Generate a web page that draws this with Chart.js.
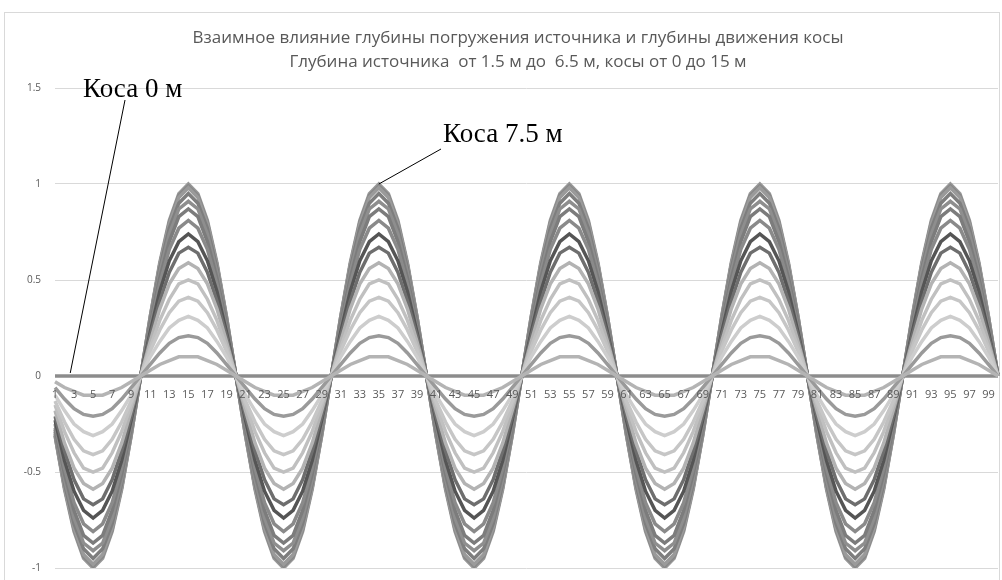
<!DOCTYPE html>
<html>
<head>
<meta charset="utf-8">
<script src="https://cdn.jsdelivr.net/npm/chart.js@4"></script>
<style>
  html, body { margin: 0; padding: 0; background: #fff; }
  #wrap { position: relative; width: 1002px; height: 580px; }
</style>
</head>
<body>
<div id="wrap"><canvas id="ghostChart" width="1002" height="580"></canvas></div>
<script>
// категории 1..100
const categories = [];
for (let i = 1; i <= 100; i++) categories.push(String(i));

// деления оси Y
const yTicks = [-1, -0.5, 0, 0.5, 1, 1.5];

// один период (20 точек) для каждой глубины косы, повторяется 5 раз
const kosa0 = [0,0,0,0,0,0,0,0,0,0, 0,0,0,0,0,0,0,0,0,0];
const kosa05 = [-0.03,-0.06,-0.08,-0.10,-0.10,-0.10,-0.08,-0.06,-0.03,0, 0.03,0.06,0.08,0.10,0.10,0.10,0.08,0.06,0.03,0];
const kosa10 = [-0.06,-0.12,-0.17,-0.20,-0.21,-0.20,-0.17,-0.12,-0.06,0, 0.06,0.12,0.17,0.20,0.21,0.20,0.17,0.12,0.06,0];
const kosa15 = [-0.10,-0.18,-0.25,-0.29,-0.31,-0.29,-0.25,-0.18,-0.10,0, 0.10,0.18,0.25,0.29,0.31,0.29,0.25,0.18,0.10,0];
const kosa20 = [-0.13,-0.24,-0.33,-0.39,-0.41,-0.39,-0.33,-0.24,-0.13,0, 0.13,0.24,0.33,0.39,0.41,0.39,0.33,0.24,0.13,0];
const kosa25 = [-0.15,-0.29,-0.40,-0.48,-0.50,-0.48,-0.40,-0.29,-0.15,0, 0.15,0.29,0.40,0.48,0.50,0.48,0.40,0.29,0.15,0];
const kosa30 = [-0.18,-0.35,-0.48,-0.56,-0.59,-0.56,-0.48,-0.35,-0.18,0, 0.18,0.35,0.48,0.56,0.59,0.56,0.48,0.35,0.18,0];
const kosa35 = [-0.21,-0.39,-0.54,-0.64,-0.67,-0.64,-0.54,-0.39,-0.21,0, 0.21,0.39,0.54,0.64,0.67,0.64,0.54,0.39,0.21,0];
const kosa40 = [-0.23,-0.44,-0.60,-0.70,-0.74,-0.70,-0.60,-0.44,-0.23,0, 0.23,0.44,0.60,0.70,0.74,0.70,0.60,0.44,0.23,0];
const kosa45 = [-0.25,-0.48,-0.66,-0.77,-0.81,-0.77,-0.66,-0.48,-0.25,0, 0.25,0.48,0.66,0.77,0.81,0.77,0.66,0.48,0.25,0];
const kosa50 = [-0.27,-0.51,-0.70,-0.83,-0.87,-0.83,-0.70,-0.51,-0.27,0, 0.27,0.51,0.70,0.83,0.87,0.83,0.70,0.51,0.27,0];
const kosa55 = [-0.28,-0.54,-0.74,-0.87,-0.91,-0.87,-0.74,-0.54,-0.28,0, 0.28,0.54,0.74,0.87,0.91,0.87,0.74,0.54,0.28,0];
const kosa60 = [-0.29,-0.56,-0.77,-0.90,-0.95,-0.90,-0.77,-0.56,-0.29,0, 0.29,0.56,0.77,0.90,0.95,0.90,0.77,0.56,0.29,0];
const kosa65 = [-0.30,-0.58,-0.79,-0.93,-0.98,-0.93,-0.79,-0.58,-0.30,0, 0.30,0.58,0.79,0.93,0.98,0.93,0.79,0.58,0.30,0];
const kosa70 = [-0.31,-0.58,-0.80,-0.94,-0.99,-0.94,-0.80,-0.58,-0.31,0, 0.31,0.58,0.80,0.94,0.99,0.94,0.80,0.58,0.31,0];
const kosa75 = [-0.31,-0.59,-0.81,-0.95,-1.00,-0.95,-0.81,-0.59,-0.31,0, 0.31,0.59,0.81,0.95,1.00,0.95,0.81,0.59,0.31,0];

const seriesNames = ['Коса 0 м', 'Коса 0.5 м', 'Коса 1 м', 'Коса 1.5 м', 'Коса 2 м', 'Коса 2.5 м', 'Коса 3 м', 'Коса 3.5 м',
  'Коса 4 м', 'Коса 4.5 м', 'Коса 5 м', 'Коса 5.5 м', 'Коса 6 м', 'Коса 6.5 м', 'Коса 7 м', 'Коса 7.5 м'];
const seriesPeriods = [kosa0, kosa05, kosa10, kosa15, kosa20, kosa25, kosa30, kosa35,
  kosa40, kosa45, kosa50, kosa55, kosa60, kosa65, kosa70, kosa75];
const seriesColors = ['#8c8c8c', '#b4b4b4', '#9a9a9a', '#cdcdcd', '#c6c6c6', '#c0c0c0', '#b3b3b3', '#6e6e6e',
  '#555555', '#8a8a8a', '#7c7c7c', '#8e8e8e', '#7e7e7e', '#9a9a9a', '#888888', '#999999'];

function tile(period) {
    const out = [];
    for (let r = 0; r < 5; r++) out.push(...period);
    return out;
}

const datasets = seriesPeriods.map(function(p, i) {
    return {
        label: seriesNames[i],
        data: tile(p),
        borderColor: seriesColors[i],
        borderWidth: 3.5,
        pointRadius: 0,
        tension: 0,
        fill: false
    };
});
// нулевую линию рисуем поверх
datasets.push(datasets.shift());

const txt = '#595959';
const plotBottom = 568;

// подписи, рамка, заголовок
const decorPlugin = {
    id: 'decor',
    afterLayout(chart) {
        // ось X стоит на нуле и не должна отъедать место снизу
        const ca = chart.chartArea, y = chart.scales.y;
        ca.bottom = plotBottom;
        ca.height = ca.bottom - ca.top;
        y.bottom = plotBottom;
        y.height = y.bottom - y.top;
        y.configure();
    },
    beforeDraw(chart) {
        const ctx = chart.ctx;
        ctx.save();
        ctx.strokeStyle = '#d9d9d9';
        ctx.lineWidth = 1;
        ctx.strokeRect(4.5, 12.5, 995, 580);
        ctx.fillStyle = txt;
        ctx.font = '17px "Open Sans", sans-serif';
        ctx.textAlign = 'center';
        ctx.textBaseline = 'middle';
        ctx.fillText('Взаимное влияние глубины погружения источника и глубины движения косы', 518, 38);
        ctx.fillText('Глубина источника  от 1.5 м до  6.5 м, косы от 0 до 15 м', 518, 62);
        ctx.restore();
    },
    afterDatasetsDraw(chart) {
        const ctx = chart.ctx;
        const x = chart.scales.x, y = chart.scales.y;
        ctx.save();
        ctx.strokeStyle = '#000';
        ctx.lineWidth = 1;
        ctx.beginPath();
        ctx.moveTo(125, 100);
        ctx.lineTo(x.getPixelForValue(1.6), y.getPixelForValue(0) - 3);
        ctx.moveTo(441, 149);
        ctx.lineTo(x.getPixelForValue(34), y.getPixelForValue(1));
        ctx.stroke();
        ctx.fillStyle = '#000';
        ctx.font = '27px "Liberation Serif", "DejaVu Serif", serif';
        ctx.textAlign = 'left';
        ctx.textBaseline = 'alphabetic';
        ctx.fillText('Коса 0 м', 83, 97);
        ctx.fillText('Коса 7.5 м', 443, 142);
        ctx.restore();
    }
};

new Chart(document.getElementById('ghostChart').getContext('2d'), {
    type: 'line',
    data: { labels: categories, datasets: datasets },
    plugins: [decorPlugin],
    options: {
        responsive: false,
        animation: false,
        layout: { padding: { top: 88, right: 2, bottom: 12, left: 0 } },
        plugins: { legend: { display: false }, tooltip: { enabled: false }, title: { display: false } },
        scales: {
            x: {
                position: { y: 0 },
                offset: false,
                grid: { display: false },
                border: { display: false },
                ticks: {
                    z: 1,
                    autoSkip: false,
                    maxRotation: 0,
                    padding: 4,
                    color: txt,
                    font: { size: 11, family: '"Open Sans", sans-serif' },
                    callback: function(v, i) { return i % 2 === 0 ? categories[i] : ''; }
                }
            },
            y: {
                min: -1,
                max: 1.5,
                afterBuildTicks: function(s) { s.ticks = yTicks.map(v => ({ value: v })); },
                afterFit: function(s) { s.width = 55; },
                grid: { color: '#d9d9d9', drawTicks: false },
                border: { display: false },
                ticks: {
                    padding: 14,
                    color: txt,
                    font: { size: 10, family: '"Open Sans", sans-serif' },
                    callback: function(v) { return String(v); }
                }
            }
        }
    }
});
</script>
</body>
</html>
